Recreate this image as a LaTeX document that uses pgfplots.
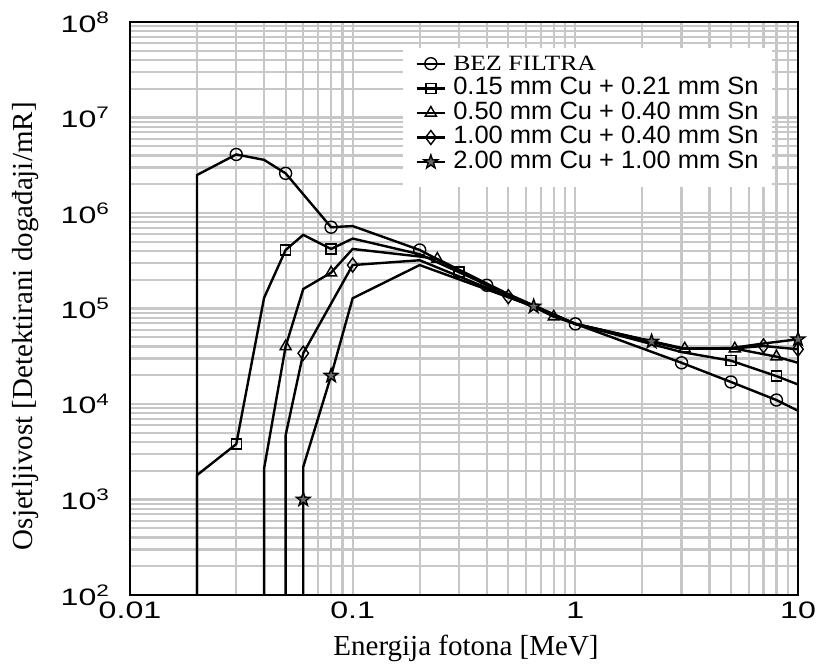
\documentclass[border=0pt]{standalone}
\usepackage{fontspec}
\setmainfont{Liberation Serif}
\newfontfamily\tickfont{Liberation Sans}[FakeStretch=1.35]
\newfontfamily\legfont{Liberation Sans}[FakeStretch=1.02]
\newfontfamily\legserif{Liberation Serif}[FakeStretch=1.18]
\usepackage{pgfplots}
\pgfplotsset{compat=1.18}

\pgfdeclareplotmark{pstar}{%
  \pgfpathmoveto{\pgfpointpolar{90}{1.2\pgfplotmarksize}}%
  \pgfpathlineto{\pgfpointpolar{126}{0.48\pgfplotmarksize}}%
  \pgfpathlineto{\pgfpointpolar{162}{1.2\pgfplotmarksize}}%
  \pgfpathlineto{\pgfpointpolar{198}{0.48\pgfplotmarksize}}%
  \pgfpathlineto{\pgfpointpolar{234}{1.2\pgfplotmarksize}}%
  \pgfpathlineto{\pgfpointpolar{270}{0.48\pgfplotmarksize}}%
  \pgfpathlineto{\pgfpointpolar{306}{1.2\pgfplotmarksize}}%
  \pgfpathlineto{\pgfpointpolar{342}{0.48\pgfplotmarksize}}%
  \pgfpathlineto{\pgfpointpolar{18}{1.2\pgfplotmarksize}}%
  \pgfpathlineto{\pgfpointpolar{54}{0.48\pgfplotmarksize}}%
  \pgfpathclose
  \pgfusepathqfillstroke
}

\pgfplotstableread{
x y
0.02 10
0.02 2.5e6
0.03 4.1e6
0.04 3.6e6
0.05 2.6e6
0.08 7.1e5
0.1 7.3e5
0.2 4.1e5
0.4 1.75e5
1 6.9e4
3 2.7e4
5 1.7e4
8 1.1e4
10 8.5e3
}\bez

\pgfplotstableread{
x y
0.02 10
0.02 1.8e3
0.03 3.8e3
0.04 1.29e5
0.05 4.1e5
0.06 5.9e5
0.08 4.2e5
0.1 5.4e5
0.2 3.7e5
0.3 2.4e5
1 6.9e4
3 3.5e4
5 2.84e4
8 1.96e4
10 1.6e4
}\sqr

\pgfplotstableread{
x y
0.04 10
0.04 2.1e3
0.05 4.0e4
0.06 1.6e5
0.08 2.37e5
0.1 4.2e5
0.2 3.5e5
0.24 3.3e5
0.8 8.2e4
1 6.9e4
3.1 3.8e4
5.2 3.8e4
8 3.13e4
10 2.7e4
}\tri

\pgfplotstableread{
x y
0.05 10
0.05 4.7e3
0.06 3.4e4
0.1 2.85e5
0.2 3.2e5
0.5 1.33e5
1 6.9e4
3 3.8e4
5 3.8e4
7 4.05e4
10 3.74e4
}\dia

\pgfplotstableread{
x y
0.06 10
0.06 1.0e3
0.06 2.2e3
0.08 1.98e4
0.1 1.28e5
0.2 2.85e5
0.65 1.05e5
1 6.9e4
2.2 4.5e4
3 3.8e4
5 3.85e4
7 4.3e4
10 4.76e4
}\str

\begin{document}
\begin{tikzpicture}
\useasboundingbox (-65pt,-36.5pt) rectangle (343.5pt,297.5pt);
\begin{axis}[
  xmode=log, ymode=log,
  scale only axis,
  width=334pt, height=286.5pt,
  xmin=0.01, xmax=10, ymin=1e2, ymax=1e8,
  clip mode=individual,
  xtick={0.01,0.1,1,10},
  xticklabels={0.01,0.1,1,10},
  ytick={1e2,1e3,1e4,1e5,1e6,1e7,1e8},
  yticklabels={10\textsuperscript{2},10\textsuperscript{3},10\textsuperscript{4},10\textsuperscript{5},10\textsuperscript{6},10\textsuperscript{7},10\textsuperscript{8}},
  ticklabel style={font=\tickfont\fontsize{11.9}{14}\selectfont},
  yticklabel style={xshift=-6.5pt},
  major tick length=0pt, minor tick length=0pt,
  grid=both,
  major grid style={line width=1.1pt, black!22},
  minor grid style={line width=1.1pt, black!22},
  axis line style={line width=0.9pt},
  xlabel={Energija fotona [MeV]},
  ylabel={Osjetljivost [Detektirani događaji/mR]},
  every axis x label/.style={at={(axis description cs:0.503,-0.105)}, anchor=base, font=\fontsize{14.5}{17}\selectfont},
  every axis y label/.style={at={(axis description cs:-0.157,0.469)}, rotate=90, anchor=center, font=\fontsize{14.5}{17}\selectfont},
  legend style={at={(axis description cs:0.4087,0.9546)}, anchor=north west, draw=none, fill=white,
    font=\legfont\fontsize{12.5}{14}\selectfont, inner xsep=6pt, inner ysep=1.5pt, row sep=0pt, column sep=3pt,
    nodes={inner sep=0.5pt, text height=8.8pt, text depth=2.5pt}},
  legend cell align=left,
  legend image code/.code={\draw[#1, mark indices={2}] plot coordinates {(0cm,0cm) (0.25cm,0cm) (0.5cm,0cm)};},
  ser/.style={black, line width=1.2pt, mark options={solid, line width=0.7pt, fill=none}},
]
\addplot[ser, mark=o, mark size=3pt, mark indices={2,4,5,7,8,9,10,11,12}] table {\bez};
\addlegendentry{{\legserif\fontsize{10.9}{13}\selectfont BEZ FILTRA}}
\addplot[ser, mark=square, mark size=2.5pt, mark indices={2,4,6,9,12,13}] table {\sqr};
\addlegendentry{0.15 mm Cu + 0.21 mm Sn}
\addplot[ser, mark=triangle, mark size=3.2pt, mark indices={2,4,7,8,10,11,12}] table {\tri};
\addlegendentry{0.50 mm Cu + 0.40 mm Sn}
\addplot[ser, mark=diamond, mark size=3.5pt, mark indices={2,3,5,9,10}] table {\dia};
\addlegendentry{1.00 mm Cu + 0.40 mm Sn}
\addplot[ser, mark=pstar, mark size=3pt, mark options={solid, line width=0.7pt, fill=black!60}, mark indices={1,3,6,8,12}] table {\str};
\addlegendentry{2.00 mm Cu + 1.00 mm Sn}
\addlegendimage{empty legend}
\addlegendentry[text height=4pt, text depth=0pt]{}
\end{axis}
\end{tikzpicture}
\end{document}
